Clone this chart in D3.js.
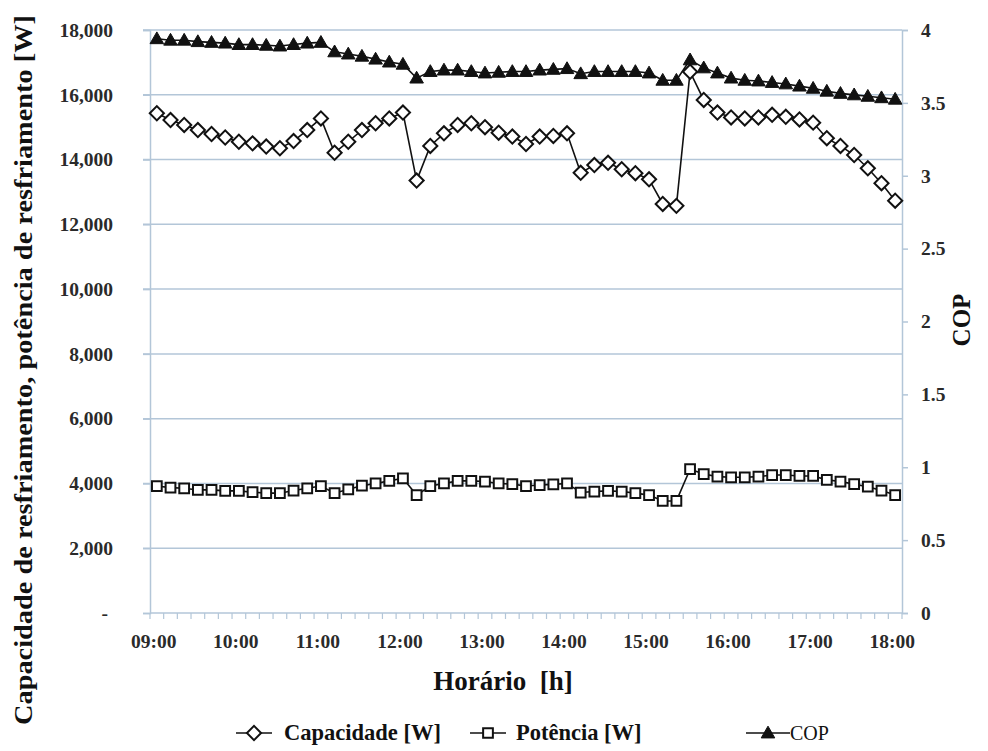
<!DOCTYPE html>
<html>
<head>
<meta charset="utf-8">
<script src="https://cdn.jsdelivr.net/npm/d3@7"></script>
<style>
  html, body { margin: 0; padding: 0; background: #ffffff; }
  svg { display: block; }
  text { font-family: "Liberation Serif", "Times New Roman", serif; }
</style>
</head>
<body>
<svg id="chart" width="988" height="751"></svg>
<script>
// Sample times (10-minute steps)
const times = [
  "09:00","09:10","09:20","09:30","09:40","09:50",
  "10:00","10:10","10:20","10:30","10:40","10:50",
  "11:00","11:10","11:20","11:30","11:40","11:50",
  "12:00","12:10","12:20","12:30","12:40","12:50",
  "13:00","13:10","13:20","13:30","13:40","13:50",
  "14:00","14:10","14:20","14:30","14:40","14:50",
  "15:00","15:10","15:20","15:30","15:40","15:50",
  "16:00","16:10","16:20","16:30","16:40","16:50",
  "17:00","17:10","17:20","17:30","17:40","17:50",
  "18:00"
];

// Cooling capacity [W]
const capacidade = [
  15430, 15220, 15070, 14910, 14790, 14680,
  14550, 14500, 14400, 14350, 14570, 14910,
  15270, 14210, 14550, 14910, 15120, 15270,
  15450, 13350, 14420, 14810, 15070, 15120,
  15000, 14830, 14710, 14480, 14710, 14730,
  14810, 13590, 13830, 13900, 13700, 13580,
  13390, 12630, 12570, 16710, 15840, 15450,
  15300, 15270, 15300, 15380, 15320, 15240,
  15140, 14660, 14420, 14140, 13730, 13270,
  12730
];

// Electrical power [W]
const potencia = [
  3920, 3870, 3850, 3800, 3800, 3770,
  3770, 3730, 3700, 3700, 3780, 3850,
  3920, 3700, 3820, 3930, 4000, 4080,
  4160, 3640, 3920, 4000, 4080, 4080,
  4060, 4000, 3980, 3920, 3950, 3970,
  4000, 3720, 3750, 3770, 3750, 3700,
  3640, 3460, 3460, 4440, 4290, 4210,
  4190, 4190, 4210, 4260, 4260, 4230,
  4230, 4110, 4060, 3980, 3900, 3780,
  3640
];

// Coefficient of performance
const cop = [
  3.94, 3.93, 3.93, 3.92, 3.915, 3.91,
  3.90, 3.90, 3.895, 3.89, 3.90, 3.91,
  3.915, 3.85, 3.835, 3.82, 3.80, 3.78,
  3.765, 3.67, 3.715, 3.725, 3.725, 3.715,
  3.705, 3.71, 3.715, 3.715, 3.725, 3.73,
  3.735, 3.70, 3.715, 3.715, 3.715, 3.715,
  3.705, 3.655, 3.655, 3.795, 3.74, 3.705,
  3.67, 3.655, 3.65, 3.64, 3.63, 3.615,
  3.60, 3.58, 3.565, 3.555, 3.545, 3.535,
  3.525
];

const xTickLabels = ["09:00","10:00","11:00","12:00","13:00","14:00","15:00","16:00","17:00","18:00"];
const leftTicks = [0, 2000, 4000, 6000, 8000, 10000, 12000, 14000, 16000, 18000];
const rightTicks = [0, 0.5, 1, 1.5, 2, 2.5, 3, 3.5, 4];

const plot = { left: 150, right: 902, top: 30, bottom: 613 };
const gridColor = "#b3c6d8";
const labelColor = "#2a2a2a";

const svg = d3.select("#chart");

const x = d3.scaleBand().domain(times).range([plot.left, plot.right]).paddingInner(0).paddingOuter(0);
const cx = t => x(t) + x.bandwidth() / 2;
const yL = d3.scaleLinear().domain([0, 18000]).range([plot.bottom, plot.top]);
const yR = d3.scaleLinear().domain([0, 4]).range([plot.bottom, plot.top]);

// Horizontal gridlines (extend left as outer ticks)
svg.append("g").selectAll("line").data(leftTicks.filter(d => d > 0)).join("line")
  .attr("x1", plot.left - 7).attr("x2", plot.right)
  .attr("y1", d => yL(d)).attr("y2", d => yL(d))
  .attr("stroke", gridColor).attr("stroke-width", 1.5);

// Left y axis
const axisL = svg.append("g").attr("transform", `translate(${plot.left},0)`)
  .call(d3.axisLeft(yL).tickValues(leftTicks).tickSize(7).tickPadding(30)
    .tickFormat(d => d === 0 ? "-" : d3.format(",")(d)));
axisL.select(".domain").attr("stroke", gridColor).attr("stroke-width", 1.5);
axisL.selectAll(".tick line").attr("stroke", gridColor).attr("stroke-width", 1.5);
axisL.selectAll(".tick text")
  .attr("font-size", 19.5).attr("font-weight", "bold").attr("fill", labelColor)
  .attr("dx", d => d === 0 ? -5 : 0);

// Right y axis
const axisR = svg.append("g").attr("transform", `translate(${plot.right},0)`)
  .call(d3.axisRight(yR).tickValues(rightTicks).tickSize(6).tickPadding(13)
    .tickFormat(d => String(d)));
axisR.select(".domain").attr("stroke", gridColor).attr("stroke-width", 1.5);
axisR.selectAll(".tick line").attr("stroke", gridColor).attr("stroke-width", 1.5);
axisR.selectAll(".tick text")
  .attr("font-size", 19.5).attr("font-weight", "bold").attr("fill", labelColor);

// Bottom axis: ticks between categories, labels every hour
const boundaries = times.map(t => x(t)).concat([x(times[times.length - 1]) + x.bandwidth()]);
const gx = svg.append("g");
gx.append("line")
  .attr("x1", plot.left).attr("x2", plot.right)
  .attr("y1", plot.bottom).attr("y2", plot.bottom)
  .attr("stroke", gridColor).attr("stroke-width", 1.5);
gx.selectAll("line.tk").data(boundaries).join("line").attr("class", "tk")
  .attr("x1", d => d).attr("x2", d => d)
  .attr("y1", plot.bottom).attr("y2", plot.bottom + 6)
  .attr("stroke", gridColor).attr("stroke-width", 1.2);
gx.selectAll("text").data(xTickLabels).join("text")
  .attr("x", d => cx(d) - 3).attr("y", plot.bottom + 35)
  .attr("text-anchor", "middle")
  .attr("font-size", 19.5).attr("font-weight", "bold").attr("fill", labelColor)
  .text(d => d);

// Axis titles
svg.append("text")
  .attr("transform", "translate(32,370) rotate(-90)")
  .attr("text-anchor", "middle")
  .attr("font-size", 25).attr("font-weight", "bold").attr("fill", "#111")
  .attr("textLength", 710).attr("lengthAdjust", "spacingAndGlyphs")
  .text("Capacidade de resfriamento, potência de resfriamento [W]");

svg.append("text")
  .attr("transform", "translate(970,320) rotate(-90)")
  .attr("text-anchor", "middle")
  .attr("font-size", 25).attr("font-weight", "bold").attr("fill", "#111")
  .text("COP");

svg.append("text")
  .attr("x", 503).attr("y", 690)
  .attr("text-anchor", "middle")
  .attr("font-size", 27).attr("font-weight", "bold").attr("fill", "#111")
  .attr("xml:space", "preserve")
  .text("Horário  [h]");

// Series lines
const lineL = d3.line().x((d, i) => cx(times[i])).y(d => yL(d));
const lineR = d3.line().x((d, i) => cx(times[i])).y(d => yR(d));

const series = svg.append("g");
series.append("path").datum(potencia).attr("d", lineL)
  .attr("fill", "none").attr("stroke", "#111").attr("stroke-width", 1.6);
series.append("path").datum(capacidade).attr("d", lineL)
  .attr("fill", "none").attr("stroke", "#111").attr("stroke-width", 1.6);
series.append("path").datum(cop).attr("d", lineR)
  .attr("fill", "none").attr("stroke", "#111").attr("stroke-width", 1.6);

const diamond = d3.symbol().type(d3.symbolSquare).size(100);
const square = d3.symbol().type(d3.symbolSquare).size(95);
const triangle = d3.symbol().type(d3.symbolTriangle).size(80);

// Markers
series.append("g").selectAll("path").data(potencia).join("path")
  .attr("d", square)
  .attr("transform", (d, i) => `translate(${cx(times[i])},${yL(d)})`)
  .attr("fill", "#fff").attr("stroke", "#111").attr("stroke-width", 2);

series.append("g").selectAll("path").data(capacidade).join("path")
  .attr("d", diamond)
  .attr("transform", (d, i) => `translate(${cx(times[i])},${yL(d)}) rotate(45)`)
  .attr("fill", "#fff").attr("stroke", "#111").attr("stroke-width", 2);

series.append("g").selectAll("path").data(cop).join("path")
  .attr("d", triangle)
  .attr("transform", (d, i) => `translate(${cx(times[i])},${yR(d) + 1})`)
  .attr("fill", "#111").attr("stroke", "#111").attr("stroke-width", 1);

// Legend
const legendY = 733;
const legend = svg.append("g");
const items = [
  { x0: 236, x1: 272, label: "Capacidade [W]", tx: 284, sym: "diamond", bold: true, fs: 22.5 },
  { x0: 470, x1: 506, label: "Potência [W]", tx: 516, sym: "square", bold: true, fs: 22.5 },
  { x0: 746, x1: 790, label: "COP", tx: 790, sym: "triangle", bold: false, fs: 20 }
];
items.forEach(it => {
  const g = legend.append("g");
  const mid = (it.x0 + it.x1) / 2;
  g.append("line").attr("x1", it.x0).attr("x2", it.x1)
    .attr("y1", legendY).attr("y2", legendY)
    .attr("stroke", "#111").attr("stroke-width", 1.6);
  if (it.sym === "diamond") {
    g.append("path").attr("d", diamond)
      .attr("transform", `translate(${mid},${legendY}) rotate(45)`)
      .attr("fill", "#fff").attr("stroke", "#111").attr("stroke-width", 2);
  } else if (it.sym === "square") {
    g.append("path").attr("d", square)
      .attr("transform", `translate(${mid},${legendY})`)
      .attr("fill", "#fff").attr("stroke", "#111").attr("stroke-width", 2);
  } else {
    g.append("path").attr("d", triangle)
      .attr("transform", `translate(${mid},${legendY + 1})`)
      .attr("fill", "#111").attr("stroke", "#111").attr("stroke-width", 1);
  }
  g.append("text").attr("x", it.tx).attr("y", legendY + 7)
    .attr("font-size", it.fs).attr("font-weight", it.bold ? "bold" : "normal")
    .attr("fill", "#111")
    .text(it.label);
});
</script>
</body>
</html>
